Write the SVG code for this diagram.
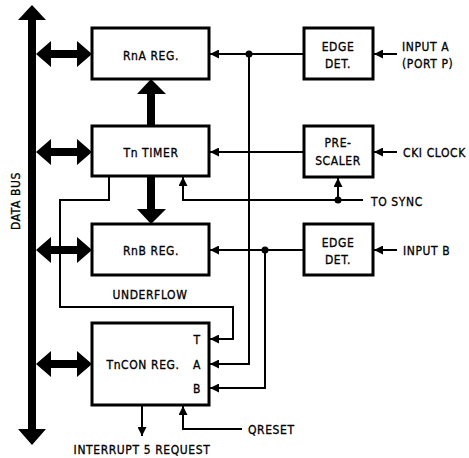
<svg xmlns="http://www.w3.org/2000/svg" width="469" height="458" viewBox="0 0 469 458">
<style>
.box{fill:#fff;stroke:#000;stroke-width:3}
.w{fill:none;stroke:#000;stroke-width:2}
.t{font-family:"DejaVu Sans Condensed","Liberation Sans",sans-serif;font-size:12px;fill:#000;stroke:#000;stroke-width:0.3px;letter-spacing:0.6px}
.m{text-anchor:middle}
</style>
<defs>
<marker id="ah" viewBox="0 0 10 10" refX="10" refY="5" markerWidth="4.5" markerHeight="4.5" orient="auto" markerUnits="strokeWidth">
<path d="M0,0 L10,5 L0,10 z" fill="#000"/>
</marker>
</defs>
<rect width="469" height="458" fill="#fff"/>
<g id="connectors">
<rect x="28" y="19" width="8" height="411" fill="#000"/>
<polygon points="32,5 46,20 18,20" fill="#000"/>
<polygon points="32,445 46,429 18,429" fill="#000"/>
<g id="dbl">
<path d="M36,54 L51,41 L51,50 L77,50 L77,41 L92,54 L77,67 L77,58 L51,58 L51,67 Z" fill="#000"/>
<path d="M36,152 L51,139 L51,148 L77,148 L77,139 L92,152 L77,165 L77,156 L51,156 L51,165 Z" fill="#000"/>
<path d="M36,250 L51,237 L51,246 L77,246 L77,237 L92,250 L77,263 L77,254 L51,254 L51,263 Z" fill="#000"/>
<path d="M36,364 L51,351 L51,360 L77,360 L77,351 L92,364 L77,377 L77,368 L51,368 L51,377 Z" fill="#000"/>
</g>
<path d="M147,126 L147,94 L137,94 L151,79 L166,94 L155,94 L155,126 Z" fill="#000"/>
<path d="M147,176 L147,209 L137,209 L151,224 L166,209 L155,209 L155,176 Z" fill="#000"/>
<path class="w" d="M304,54 L210,54" marker-end="url(#ah)"/>
<path class="w" d="M249,54 L249,364 L210,364" marker-end="url(#ah)"/>
<circle cx="249" cy="54" r="3.5" fill="#000"/>
<path class="w" d="M397,54 L374,54" marker-end="url(#ah)"/>
<path class="w" d="M304,152 L210,152" marker-end="url(#ah)"/>
<path class="w" d="M397,152 L374,152" marker-end="url(#ah)"/>
<path class="w" d="M363,200 L183,200 L183,177" marker-end="url(#ah)"/>
<path class="w" d="M338,200 L338,178" marker-end="url(#ah)"/>
<circle cx="338" cy="200" r="3.5" fill="#000"/>
<path class="w" d="M304,250 L210,250" marker-end="url(#ah)"/>
<path class="w" d="M265,250 L265,388 L210,388" marker-end="url(#ah)"/>
<circle cx="265" cy="250" r="3.5" fill="#000"/>
<path class="w" d="M397,250 L374,250" marker-end="url(#ah)"/>
<path class="w" d="M109,176 L109,200 L60,200 L60,307 L233,307 L233,339 L210,339" marker-end="url(#ah)"/>
<path class="w" d="M142,405 L142,436" marker-end="url(#ah)"/>
<path class="w" d="M242,429 L183,429 L183,406" marker-end="url(#ah)"/>
</g>
<g id="rna"><rect class="box" x="92" y="28" width="117" height="51"/><text class="t m" x="151" y="59.5">RnA REG.</text></g>
<g id="timer"><rect class="box" x="92" y="126" width="117" height="50"/><text class="t m" x="151" y="157">Tn TIMER</text></g>
<g id="rnb"><rect class="box" x="92" y="224" width="117" height="51"/><text class="t m" x="151" y="255">RnB REG.</text></g>
<g id="tncon"><rect class="box" x="92" y="323" width="117" height="82"/><text class="t m" x="143" y="369">TnCON REG.</text>
<text class="t m" x="197" y="344">T</text><text class="t m" x="197" y="369">A</text><text class="t m" x="197" y="393">B</text></g>
<g id="edgeA"><rect class="box" x="304" y="28" width="69" height="51"/><text class="t m" x="338" y="51">EDGE</text><text class="t m" x="338" y="68">DET.</text></g>
<g id="prescaler"><rect class="box" x="304" y="126" width="69" height="51"/><text class="t m" x="338" y="147">PRE-</text><text class="t m" x="338" y="165">SCALER</text></g>
<g id="edgeB"><rect class="box" x="304" y="224" width="69" height="51"/><text class="t m" x="338" y="247">EDGE</text><text class="t m" x="338" y="264">DET.</text></g>
<g id="labels">
<text class="t m" transform="translate(20,201) rotate(-90)">DATA BUS</text>
<text class="t" x="402" y="51">INPUT A</text>
<text class="t" x="402" y="68">(PORT P)</text>
<text class="t" x="403" y="157">CKI CLOCK</text>
<text class="t" x="371" y="206">TO SYNC</text>
<text class="t" x="403" y="255">INPUT B</text>
<text class="t m" x="150" y="299">UNDERFLOW</text>
<text class="t" x="248" y="434">QRESET</text>
<text class="t m" x="142" y="454">INTERRUPT 5 REQUEST</text>
</g>
</svg>
